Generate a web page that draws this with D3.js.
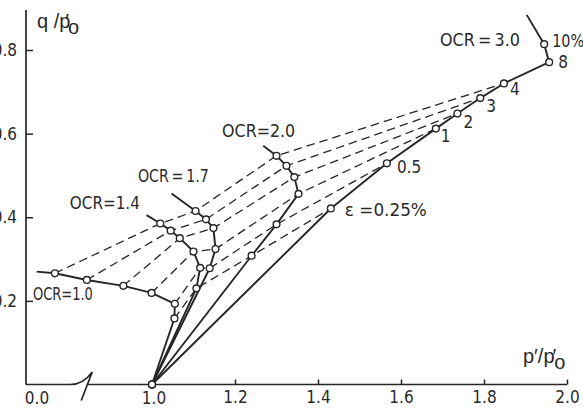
<!DOCTYPE html>
<html>
<head>
<meta charset="utf-8">
<script src="https://cdn.jsdelivr.net/npm/d3@7"></script>
<style>
  body { margin: 0; background: #fff; }
  text { font-family: "DejaVu Sans Condensed", "DejaVu Sans", sans-serif; font-stretch: condensed; fill: #2a2a2a; }
  text.title { font-family: "Liberation Sans", "DejaVu Sans", sans-serif; font-stretch: normal; }
</style>
</head>
<body>
<script>
// Stress paths: p'/p'0, q/p'0 and axial strain (%) at each circle.
// Each path runs from the free end of its tail down to the origin (1.0, 0).
// null = no circle (end of the tail)
var ocrNames = ["1.0", "1.4", "1.7", "2.0", "3.0"];

var ocr10P = [0.722, 0.766, 0.843, 0.931, 0.999, 1.055, 1.054, 1.0];
var ocr10Q = [0.270, 0.266, 0.250, 0.236, 0.219, 0.193, 0.158, 0.0];
var ocr10E = [null, 4, 3, 2, 1, 0.5, 0.25, 0];

var ocr14P = [0.987, 1.020, 1.045, 1.067, 1.100, 1.116, 1.107, 1.0];
var ocr14Q = [0.405, 0.385, 0.368, 0.350, 0.318, 0.279, 0.230, 0.0];
var ocr14E = [null, 4, 3, 2, 1, 0.5, 0.25, 0];

var ocr17P = [1.047, 1.105, 1.130, 1.148, 1.153, 1.139, 1.0];
var ocr17Q = [0.457, 0.415, 0.395, 0.374, 0.324, 0.278, 0.0];
var ocr17E = [null, 4, 3, 2, 1, 0.5, 0];

var ocr20P = [1.268, 1.300, 1.324, 1.343, 1.353, 1.300, 1.240, 1.0];
var ocr20Q = [0.571, 0.547, 0.523, 0.496, 0.456, 0.383, 0.308, 0.0];
var ocr20E = [null, 4, 3, 2, 1, 0.5, 0.25, 0];

var ocr30P = [1.903, 1.945, 1.957, 1.848, 1.791, 1.736, 1.684, 1.566, 1.431, 1.0];
var ocr30Q = [0.884, 0.814, 0.771, 0.720, 0.685, 0.648, 0.612, 0.529, 0.421, 0.0];
var ocr30E = [null, 10, 8, 4, 3, 2, 1, 0.5, 0.25, 0];

// lines of equal strain (dashed)
var strainLines = [0.25, 0.5, 1, 2, 3, 4];
// strain labels along the OCR = 3.0 path
var strainLabels = ["ε =0.25%", "0.5", "1", "2", "3", "4", "8", "10%"];
var strainLabelAt = [0.25, 0.5, 1, 2, 3, 4, 8, 10];

var xTicks = [1.0, 1.2, 1.4, 1.6, 1.8, 2.0];
var yTicks = [0.2, 0.4, 0.6, 0.8];

// ---------------------------------------------------------------
var W = 583, H = 409;
var axisX = 26, axisY = 384.5;

var svg = d3.select("body").append("svg")
    .attr("width", W)
    .attr("height", H);

var x = d3.scaleLinear().domain([1, 2]).range([152, 567]);
var y = d3.scaleLinear().domain([0, 0.8]).range([axisY, 50]);

var ink = "#262626";
var fs = "17px";

var paths = [
    { ocr: "1.0", p: ocr10P, q: ocr10Q, e: ocr10E },
    { ocr: "1.4", p: ocr14P, q: ocr14Q, e: ocr14E },
    { ocr: "1.7", p: ocr17P, q: ocr17Q, e: ocr17E },
    { ocr: "2.0", p: ocr20P, q: ocr20Q, e: ocr20E },
    { ocr: "3.0", p: ocr30P, q: ocr30Q, e: ocr30E }
];
paths.forEach(function (d) {
    d.pts = d.p.map(function (p, i) { return { p: p, q: d.q[i], e: d.e[i] }; });
});

var line = d3.line()
    .x(function (d) { return x(d.p); })
    .y(function (d) { return y(d.q); });

// Axes ----------------------------------------------------------
var xAxis = svg.append("g")
    .attr("transform", "translate(0," + axisY + ")")
    .call(d3.axisBottom(x).tickValues(xTicks.slice(1)).tickFormat(d3.format(".1f"))
        .tickSize(-5).tickPadding(6));
xAxis.select(".domain").remove();
xAxis.selectAll("line").attr("stroke", ink).attr("stroke-width", 1.5);
xAxis.selectAll("text").style("font-size", fs).attr("fill", ink);

// labels 0.0 and 1.0 (1.0 sits under the origin circle)
[["0.0", axisX + 11], ["1.0", x(xTicks[0]) + 2]].forEach(function (t) {
    svg.append("text")
        .attr("x", t[1]).attr("y", axisY + 19)
        .attr("text-anchor", "middle")
        .style("font-size", fs)
        .text(t[0]);
});

// x axis line with break symbol
var bx = x(0.856);
svg.append("path")
    .attr("d", "M" + axisX + "," + axisY + "H" + (bx - 22) +
        "Q" + (bx - 9) + "," + axisY + " " + bx + "," + (axisY - 12.5) +
        "L" + (bx - 11) + "," + (axisY + 16) +
        "M" + (bx - 4.5) + "," + axisY + "H" + x(2))
    .attr("fill", "none").attr("stroke", ink).attr("stroke-width", 1.7);

var yAxis = svg.append("g")
    .attr("transform", "translate(" + axisX + ",0)")
    .call(d3.axisLeft(y).tickValues(yTicks).tickFormat(d3.format(".1f"))
        .tickSize(-7).tickPadding(9));
yAxis.select(".domain").remove();
yAxis.selectAll("line").attr("stroke", ink).attr("stroke-width", 1.5);
yAxis.selectAll("text").style("font-size", fs).attr("fill", ink);

svg.append("line")
    .attr("x1", axisX).attr("x2", axisX)
    .attr("y1", 10).attr("y2", axisY)
    .attr("stroke", ink).attr("stroke-width", 1.7);

// axis titles
var yt = svg.append("text").attr("class", "title").attr("x", 37).attr("y", 28).style("font-size", "20px");
yt.append("tspan").text("q /p");
yt.append("tspan").attr("dx", -5).text("′");
yt.append("tspan").attr("dx", -1).attr("dy", 6).text("o");

var xt = svg.append("text").attr("class", "title").attr("x", 523).attr("y", 363).style("font-size", "20px");
xt.append("tspan").text("p′/p");
xt.append("tspan").attr("dx", -2).text("′");
xt.append("tspan").attr("dx", -2).attr("dy", 6).text("o");

// Dashed equal-strain lines --------------------------------------
var dashData = strainLines.map(function (s) {
    return paths.map(function (d) {
        return d.pts.find(function (pt) { return pt.e === s; });
    }).filter(Boolean);
});

svg.selectAll("path.strain")
    .data(dashData)
    .enter().append("path")
    .attr("class", "strain")
    .attr("d", line)
    .attr("fill", "none")
    .attr("stroke", ink)
    .attr("stroke-width", 1.3)
    .attr("stroke-dasharray", "8.5,5");

// Stress paths ---------------------------------------------------
svg.selectAll("path.stress")
    .data(paths)
    .enter().append("path")
    .attr("class", "stress")
    .attr("d", function (d) { return line(d.pts); })
    .attr("fill", "none")
    .attr("stroke", ink)
    .attr("stroke-width", 1.9)
    .attr("stroke-linejoin", "round");

var circlePts = [];
paths.forEach(function (d) {
    d.pts.forEach(function (pt) { if (pt.e !== null) circlePts.push(pt); });
});
svg.selectAll("circle.pt")
    .data(circlePts)
    .enter().append("circle")
    .attr("class", "pt")
    .attr("cx", function (d) { return x(d.p); })
    .attr("cy", function (d) { return y(d.q); })
    .attr("r", 3.4)
    .attr("fill", "#fff")
    .attr("stroke", ink)
    .attr("stroke-width", 1.4);

// Labels ---------------------------------------------------------
// OCR labels: anchor (p, q) of the text start, and fitted width
var ocrLabelPos = [[0.713, 0.202, 60], [0.802, 0.420, 70], [0.966, 0.484, 71], [1.169, 0.592, 73], [1.694, 0.810, 80]];
var ocrLabelText = ["OCR=1.0", "OCR=1.4", "OCR\u2009=\u20091.7", "OCR=2.0", "OCR\u2009=\u20093.0"];
ocrNames.forEach(function (n, i) {
    svg.append("text")
        .attr("x", x(ocrLabelPos[i][0]))
        .attr("y", y(ocrLabelPos[i][1]))
        .attr("textLength", ocrLabelPos[i][2])
        .attr("lengthAdjust", "spacingAndGlyphs")
        .style("font-size", fs)
        .text(ocrLabelText[i]);
});

// strain labels next to the OCR = 3.0 circles (pixel offsets)
var strainOffset = [[14, 8, 82], [10, 10], [5, 13], [6, 14], [6, 14], [6, 12], [9, 6], [8, 3, 32]];
var p30 = paths[4].pts;
strainLabelAt.forEach(function (s, i) {
    var pt = p30.find(function (d) { return d.e === s; });
    var t = svg.append("text")
        .attr("x", x(pt.p) + strainOffset[i][0])
        .attr("y", y(pt.q) + strainOffset[i][1])
        .style("font-size", fs)
        .text(strainLabels[i]);
    if (strainOffset[i][2]) t.attr("textLength", strainOffset[i][2]).attr("lengthAdjust", "spacingAndGlyphs");
});
</script>
</body>
</html>
